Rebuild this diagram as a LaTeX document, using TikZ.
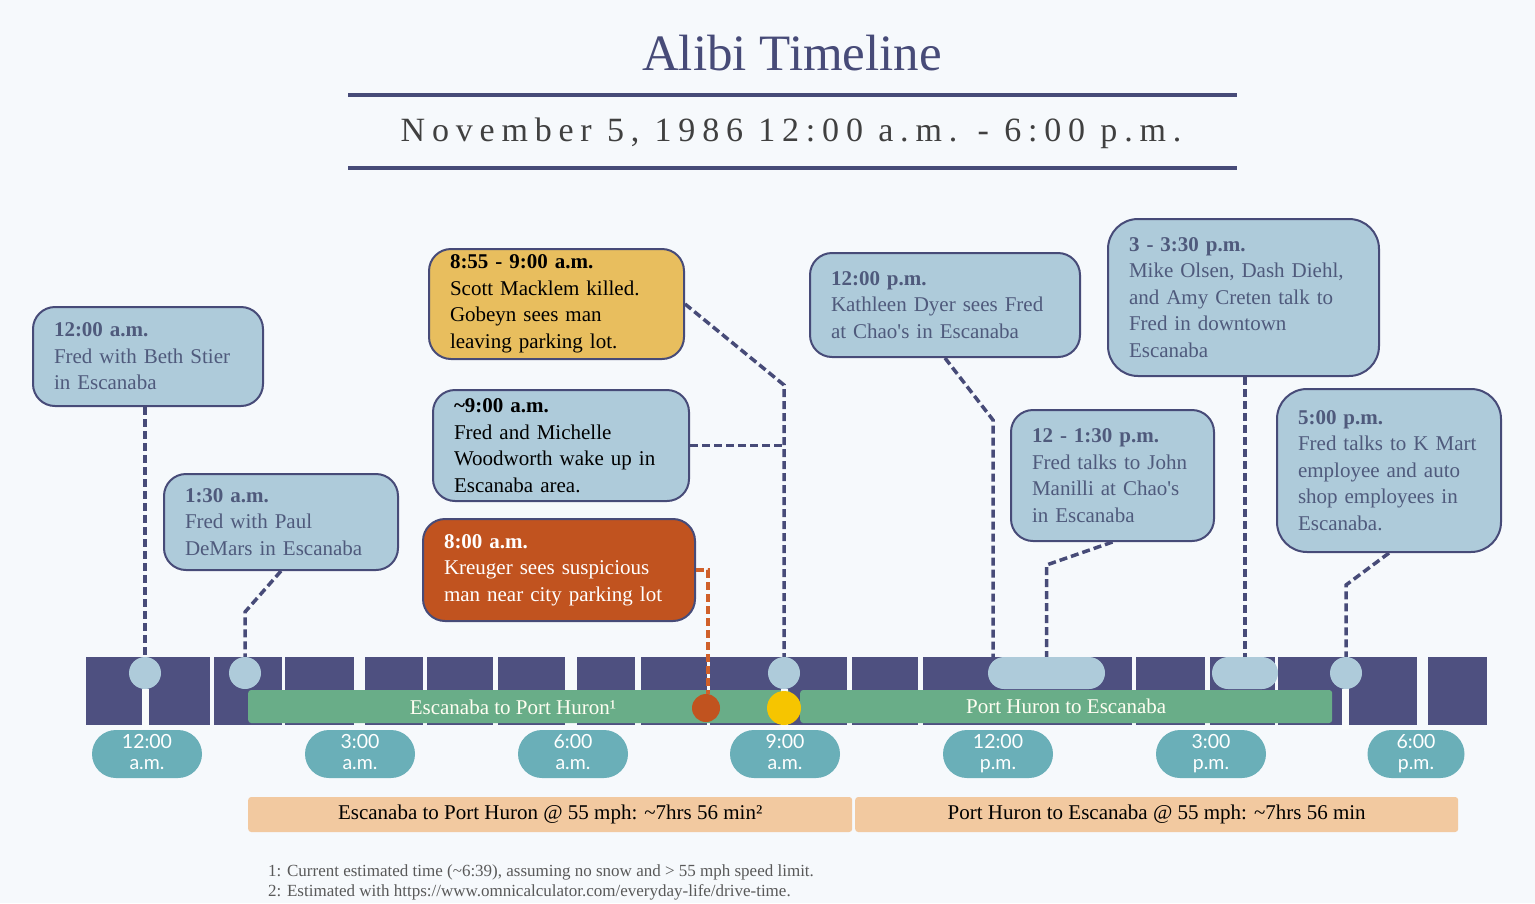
\documentclass[tikz,border=0pt]{standalone}
\usepackage{fontspec}
\setmainfont{Liberation Serif}
\newfontfamily\pillfont{Lato}
\newfontfamily\spacedfont[LetterSpace=20]{Liberation Serif}
\usetikzlibrary{positioning,shapes.misc,calc}

\definecolor{navy}{HTML}{4E5080}
\definecolor{inkblue}{HTML}{474B78}
\definecolor{slate}{HTML}{4F5A7C}
\definecolor{paleblue}{HTML}{AECBDA}
\definecolor{pillteal}{HTML}{6AAFB8}
\definecolor{roadgreen}{HTML}{69AD88}
\definecolor{drivetan}{HTML}{F2C9A0}
\definecolor{killgold}{HTML}{E8BE5E}
\definecolor{rust}{HTML}{C1531F}
\definecolor{seenred}{HTML}{D0602A}
\definecolor{sun}{HTML}{F6C500}
\definecolor{bgpaper}{HTML}{F6F9FC}

\begin{document}
\begin{tikzpicture}[x=1pt, y=-1pt,
    event/.style={draw=inkblue, line width=2pt, rounded corners=22pt, fill=paleblue, text=slate,
        align=left, inner xsep=21pt, inner ysep=4pt, anchor=north west,
        font=\fontsize{21}{26.5}\selectfont},
    link/.style={draw=inkblue, line width=3.5pt, dash pattern=on 8pt off 4pt},
    pin/.style={circle, fill=paleblue, minimum size=32pt, inner sep=0pt},
    span/.style={rounded rectangle, fill=paleblue, minimum height=32pt, inner sep=0pt},
    pill/.style={rounded rectangle, fill=pillteal, text=white, minimum height=48pt, inner sep=0pt,
        align=center, font=\pillfont\fontsize{19.5}{21}\selectfont},
    road/.style={fill=roadgreen, rounded corners=3pt, minimum height=33pt, inner sep=0pt, anchor=west,
        text=white!95!yellow, font=\fontsize{21}{24}\selectfont},
    drive/.style={fill=drivetan, rounded corners=3pt, minimum height=35pt, inner sep=0pt, anchor=west,
        font=\fontsize{21}{24}\selectfont}]
    \useasboundingbox (0,0) rectangle (1535,903);
    \fill[bgpaper] (0,0) rectangle (1535,903);

    % Heading
    \node[anchor=base, text=inkblue, font=\fontsize{51}{55}\selectfont] (title) at (792,70) {Alibi Timeline};
    \draw[inkblue, line width=4pt] (348,95) -- (1237,95);
    \node[anchor=base, text=black!75, font=\spacedfont\fontsize{34}{38}\selectfont] (subtitle) at (791,141)
        {November 5, 1986 12:00 a.m. - 6:00 p.m.};
    \draw[inkblue, line width=4pt] (348,168) -- (1237,168);

    % Hour blocks
    \foreach \a/\b in {86/210, 214/282, 285/354, 365/423, 427/493, 498/565, 577/635, 641/707,
                       710/847, 852/918, 923/1132, 1136/1205, 1210/1275, 1278/1345, 1349/1417, 1428/1487} {
        \fill[navy] (\a,657) rectangle (\b,725);
    }

    % Drives
    \node[road, minimum width=542pt] (toPH) at (248,706.5) {};
    \node[text=white!95!yellow, font=\fontsize{21}{24}\selectfont, anchor=base] (toPHtext) at (513,714) {Escanaba to Port Huron¹};
    \node[road, minimum width=532pt] (toEsc) at (800,706.5) {Port Huron to Escanaba};

    % White ticks under markers
    \foreach \x in {145, 784, 1345} {
        \fill[white!92!paleblue] (\x-3.5,689) rectangle (\x+3.5,729);
    }

    % Markers
    \node[pin] (m1200am) at (145,673) {};
    \node[pin] (m130am) at (245,673) {};
    \node[pin] (m900am) at (784,673) {};
    \node[span, minimum width=117pt] (m1200pm) at (1046.5,673) {};
    \node[span, minimum width=66pt] (m330pm) at (1245,673) {};
    \node[pin] (m500pm) at (1346,673) {};
    \node[circle, fill=rust, minimum size=28pt, inner sep=0pt] (mseen) at (706,708) {};
    \node[circle, fill=sun, minimum size=34pt, inner sep=0pt] (mkill) at (784,708) {};

    % Hour labels
    \foreach \x/\w/\t/\p in {147/110/12:00/a.m., 360/110/3:00/a.m., 573/110/6:00/a.m., 785/110/9:00/a.m.,
                             998/110/12:00/p.m., 1211/110/3:00/p.m., 1416/97/6:00/p.m.} {
        \node[pill, minimum width=\w pt] (h\x) at (\x,754) {\t\\\p\vphantom{p}};
    }

    % Drive times
    \node[drive, minimum width=604pt] (timePH) at (248,814.5) {Escanaba to Port Huron @ 55 mph: \textasciitilde7hrs 56 min²};
    \node[drive, minimum width=603pt] (timeEsc) at (855,814.5) {Port Huron to Escanaba @ 55 mph: \textasciitilde7hrs 56 min};

    % Footnotes
    \node[anchor=base west, inner sep=0pt, text=black!65, font=\fontsize{17}{20}\selectfont] (note1) at (268,876)
        {1: Current estimated time (\textasciitilde6:39), assuming no snow and > 55 mph speed limit.};
    \node[anchor=base west, inner sep=0pt, text=black!65, font=\fontsize{17}{20}\selectfont] (note2) at (268,896)
        {2: Estimated with https://www.omnicalculator.com/everyday-life/drive-time.};

    % Events
    \node[event, text width=188pt, minimum height=99pt] (b1200am) at (32,306)
        {\textbf{12:00 a.m.}\\Fred with Beth Stier\\in Escanaba};
    \node[event, text width=192pt, minimum height=96pt] (b130am) at (163,473)
        {\textbf{1:30 a.m.}\\Fred with Paul\\DeMars in Escanaba};
    \node[event, fill=killgold, text=black, text width=213pt, minimum height=110pt] (bkill) at (428,248)
        {\textbf{8:55 - 9:00 a.m.}\\Scott Macklem killed.\\Gobeyn sees man\\leaving parking lot.};
    \node[event, text=black, text width=214pt, minimum height=111pt] (bwake) at (432,389)
        {\textbf{\textasciitilde9:00 a.m.}\\Fred and Michelle\\Woodworth wake up in\\Escanaba area.};
    \node[event, fill=rust, text=white, text width=230pt, minimum height=102pt] (bkreuger) at (422,518)
        {\textbf{8:00 a.m.}\\Kreuger sees suspicious\\man near city parking lot};
    \node[event, text width=228pt, minimum height=104pt] (b1200pm) at (809,252)
        {\textbf{12:00 p.m.}\\Kathleen Dyer sees Fred\\at Chao\textquotesingle s in Escanaba};
    \node[event, text width=161pt, minimum height=131pt] (b1230pm) at (1010,409)
        {\textbf{12 - 1:30 p.m.}\\Fred talks to John\\Manilli at Chao\textquotesingle s\\in Escanaba};
    \node[event, rounded corners=30pt, text width=229pt, minimum height=157pt] (b330pm) at (1107,218)
        {\textbf{3 - 3:30 p.m.}\\Mike Olsen, Dash Diehl,\\and Amy Creten talk to\\Fred in downtown\\Escanaba};
    \node[event, rounded corners=30pt, text width=182pt, minimum height=163pt] (b500pm) at (1276,388)
        {\textbf{5:00 p.m.}\\Fred talks to K Mart\\employee and auto\\shop employees in\\Escanaba.};

    % Connectors
    \coordinate (k1200pm) at (993,420);
    \draw[link] (b1200am.south -| m1200am) -- (m1200am.north);
    \draw[link] (b130am.south) -- (m130am |- 0,612) -- (m130am.north);
    \draw[link] (bkill.east) -- (m900am |- 0,385) -- (m900am.north);
    \draw[link] (bwake.east) -- (bwake.east -| m900am);
    \draw[draw=seenred, line width=3.5pt, dash pattern=on 8pt off 4pt] (bkreuger.east) -- (bkreuger.east -| 708,0) -- (mseen.north -| 708,0);
    \draw[link] (b1200pm.south) -- (k1200pm) -- (k1200pm |- m1200pm.north);
    \draw[link] (b1230pm.south) -- (m1200pm |- 0,565) -- (m1200pm.north);
    \draw[link] (b330pm.south -| m330pm) -- (m330pm.north);
    \draw[link] (b500pm.south) -- (m500pm |- 0,585) -- (m500pm.north);
\end{tikzpicture}
\end{document}
